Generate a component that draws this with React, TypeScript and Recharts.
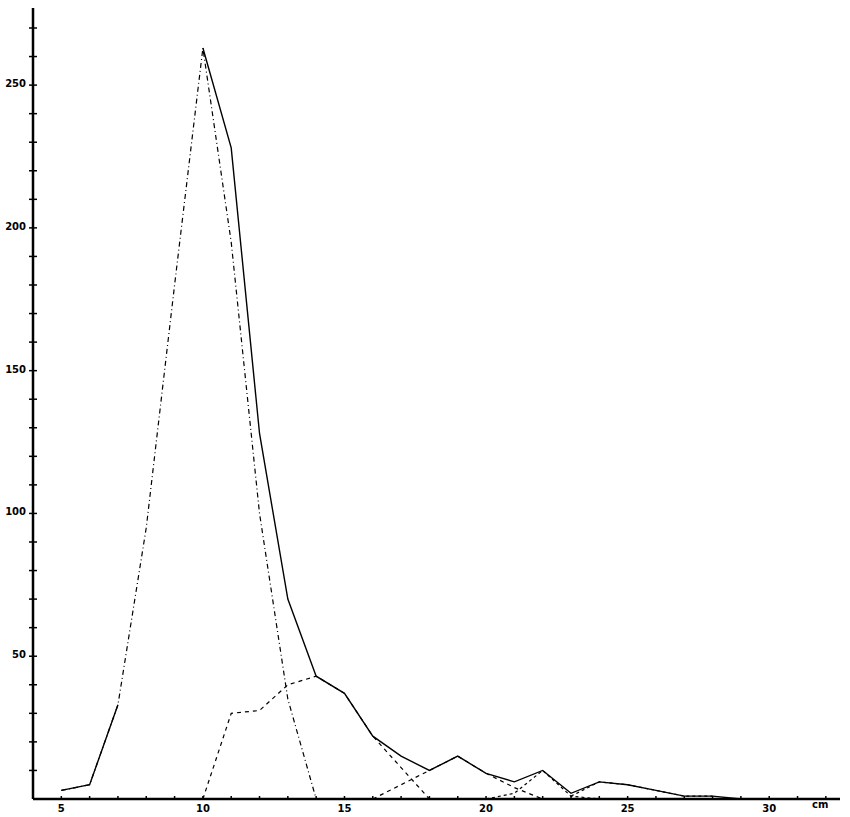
import React from 'react';
import { LineChart, Line, XAxis, YAxis } from 'recharts';

// length classes (cm) and counts
const cm = [5, 6, 7, 8, 9, 10, 11, 12, 13, 14, 15, 16, 17, 18, 19, 20, 21, 22, 23, 24, 25, 26, 27, 28, 29, 30, 31];
const total = [3, 5, 33, null, null, 263, 228, 128, 70, 43, 37, 22, 15, 10, 15, 9, 6, 10, 2, 6, 5, 3, 1, 1, 0, 0, 0];
const group1 = [3, 5, 33, 95, 180, 263, 195, 100, 35, 0, null, null, null, null, null, null, null, null, null, null, null, null, null, null, null, null, null];
const group2 = [null, null, null, null, null, 0, 30, 31, 40, 43, 37, 22, 11, 0, null, null, null, null, null, null, null, null, null, null, null, null, null];
const group3 = [null, null, null, null, null, null, null, null, null, null, null, 0, 5, 10, 15, 9, 4, 0, null, null, null, null, null, null, null, null, null];
const group4 = [null, null, null, null, null, null, null, null, null, null, null, null, null, null, null, 0, 2, 10, 1, 0, null, null, null, null, null, null, null];
const group5 = [null, null, null, null, null, null, null, null, null, null, null, null, null, null, null, null, null, null, 1, 6, 5, 3, 1, 1, null, null, null];

const yTicks = [0, 10, 20, 30, 40, 50, 60, 70, 80, 90, 100, 110, 120, 130, 140, 150, 160, 170, 180, 190, 200, 210, 220, 230, 240, 250, 260, 270];
const xTicks = [5, 6, 7, 8, 9, 10, 11, 12, 13, 14, 15, 16, 17, 18, 19, 20, 21, 22, 23, 24, 25, 26, 27, 28, 29, 30, 31, 32];

const data = cm.map((c, i) => ({
  cm: c,
  total: total[i],
  g1: group1[i],
  g2: group2[i],
  g3: group3[i],
  g4: group4[i],
  g5: group5[i],
}));

const labelFont = { fontFamily: 'DejaVu Sans', fontSize: 10, fontWeight: 700, fill: '#000' };

const YTick = (props: any) => {
  const { x, y, payload } = props;
  const v = payload.value;
  return (
    <g>
      {v !== 0 && <line x1={x - 4} x2={x + 4} y1={y} y2={y} stroke="#000" strokeWidth={1.5} />}
      {v !== 0 && v % 50 === 0 && (
        <text x={x - 7} y={y + 2} textAnchor="end" {...labelFont}>
          {v}
        </text>
      )}
    </g>
  );
};

const XTick = (props: any) => {
  const { x, y, payload } = props;
  const v = payload.value;
  return (
    <g>
      <line x1={x} x2={x} y1={y - 3} y2={y + 1} stroke="#000" strokeWidth={1.5} />
      {v % 5 === 0 && (
        <text x={x} y={y + 13} textAnchor="middle" {...labelFont}>
          {v}
        </text>
      )}
    </g>
  );
};

export default function App() {
  return (
    <div style={{ position: 'absolute', left: 0, top: 0, width: 850, height: 817, background: '#fff' }}>
      <LineChart
        width={850}
        height={817}
        data={data}
        margin={{ top: 8, right: 10, left: 0, bottom: 0 }}
      >
        <XAxis
          dataKey="cm"
          type="number"
          domain={[4, 32.5]}
          ticks={xTicks}
          height={18}
          tickSize={0}
          tickMargin={0}
          tickLine={false}
          axisLine={{ stroke: '#000', strokeWidth: 2.5 }}
          tick={<XTick />}
          interval={0}
        />
        <YAxis
          type="number"
          domain={[0, 277]}
          ticks={yTicks}
          width={33}
          tickSize={0}
          tickMargin={0}
          tickLine={false}
          axisLine={{ stroke: '#000', strokeWidth: 2.5 }}
          tick={<YTick />}
          interval={0}
        />
        <Line type="linear" dataKey="g1" stroke="#000" strokeWidth={1.2} strokeDasharray="5 3 1 3" dot={false} isAnimationActive={false} />
        <Line type="linear" dataKey="g2" stroke="#000" strokeWidth={1.2} strokeDasharray="4 4" dot={false} isAnimationActive={false} />
        <Line type="linear" dataKey="g3" stroke="#000" strokeWidth={1.2} strokeDasharray="4 4" dot={false} isAnimationActive={false} />
        <Line type="linear" dataKey="g4" stroke="#000" strokeWidth={1.2} strokeDasharray="3 3" dot={false} isAnimationActive={false} />
        <Line type="linear" dataKey="g5" stroke="#000" strokeWidth={1.2} strokeDasharray="3 3" dot={false} isAnimationActive={false} />
        <Line type="linear" dataKey="total" stroke="#000" strokeWidth={1.4} dot={false} isAnimationActive={false} />
      </LineChart>
      <div
        style={{
          position: 'absolute',
          left: 812,
          top: 799,
          fontFamily: 'DejaVu Sans',
          fontSize: 10,
          fontWeight: 700,
        }}
      >
        cm
      </div>
    </div>
  );
}
